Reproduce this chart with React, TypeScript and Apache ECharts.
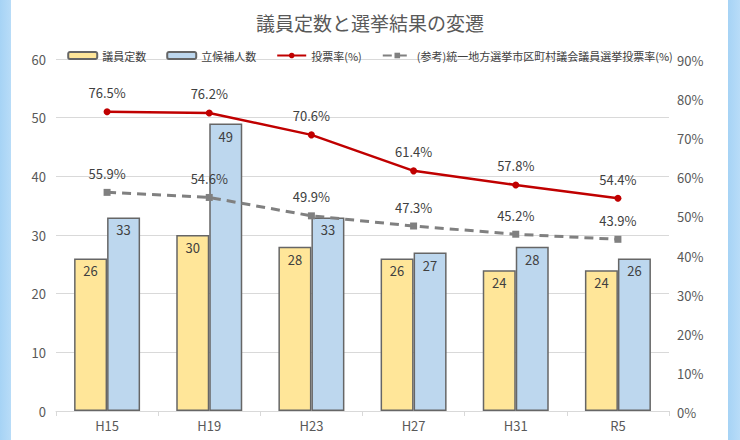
import React, { useEffect, useRef } from "react";
import * as echarts from "echarts";

const categories = ["H15", "H19", "H23", "H27", "H31", "R5"];
const seats = [26, 30, 28, 26, 24, 24];
const candidates = [33, 49, 33, 27, 28, 26];
const turnout = [76.5, 76.2, 70.6, 61.4, 57.8, 54.4];
const refTurnout = [55.9, 54.6, 49.9, 47.3, 45.2, 43.9];

const FONT = "'Noto Sans CJK JP', 'Noto Sans', sans-serif";

export default function App() {
  const ref = useRef<HTMLDivElement>(null);
  useEffect(() => {
    const chart = echarts.init(ref.current!, null, { renderer: "svg" });
    const labelStyle = { color: "#404040", fontSize: 13, fontFamily: FONT };
    chart.setOption({
      animation: false,
      textStyle: { fontFamily: FONT },
      title: {
        text: "議員定数と選挙結果の変遷",
        left: "center",
        top: 8,
        textStyle: { fontSize: 19, fontWeight: "normal", color: "#595959", fontFamily: FONT },
      },
      legend: {
        left: "center",
        top: 45,
        itemWidth: 29,
        itemHeight: 7,
        itemGap: 20,
        textStyle: { fontSize: 11, color: "#404040", fontFamily: FONT },
        data: ["議員定数", "立候補人数", "投票率(%)", "(参考)統一地方選挙市区町村議会議員選挙投票率(%)"],
      },
      grid: { left: 44, right: 59, top: 59, bottom: 29 },
      xAxis: {
        type: "category",
        data: categories,
        axisLine: { lineStyle: { color: "#d9d9d9" } },
        axisTick: { show: true, lineStyle: { color: "#d9d9d9" }, length: 5 },
        axisLabel: { color: "#595959", fontSize: 13, margin: 8, fontFamily: FONT },
      },
      yAxis: [
        {
          type: "value",
          min: 0,
          max: 60,
          interval: 10,
          axisLabel: { color: "#595959", fontSize: 13, margin: 10, fontFamily: FONT },
          splitLine: { lineStyle: { color: "#d9d9d9" } },
          axisLine: { show: false },
          axisTick: { show: false },
        },
        {
          type: "value",
          min: 0,
          max: 90,
          interval: 10,
          axisLabel: {
            color: "#595959",
            fontSize: 13,
            margin: 8,
            formatter: "{value}%",
            fontFamily: FONT,
            verticalAlign: "top",
            padding: [-5, 0, 0, 0],
          },
          splitLine: { show: false },
          axisLine: { show: false },
          axisTick: { show: false },
        },
      ],
      series: [
        {
          name: "議員定数",
          type: "bar",
          data: seats,
          barWidth: 33,
          barGap: "0%",
          itemStyle: { color: "#ffe699", borderColor: "#666666", borderWidth: 1.5 },
          label: { show: true, position: "insideTop", distance: 6, ...labelStyle },
        },
        {
          name: "立候補人数",
          type: "bar",
          data: candidates,
          barWidth: 33,
          barGap: "0%",
          itemStyle: { color: "#bdd7ee", borderColor: "#666666", borderWidth: 1.5 },
          label: { show: true, position: "insideTop", distance: 6, ...labelStyle },
        },
        {
          name: "投票率(%)",
          type: "line",
          yAxisIndex: 1,
          data: turnout,
          symbol: "circle",
          symbolSize: 7,
          lineStyle: { color: "#c00000", width: 2.5 },
          itemStyle: { color: "#c00000" },
          label: { show: true, position: "top", distance: 9, formatter: "{c}%", ...labelStyle },
        },
        {
          name: "(参考)統一地方選挙市区町村議会議員選挙投票率(%)",
          type: "line",
          yAxisIndex: 1,
          data: refTurnout,
          symbol: "rect",
          symbolSize: 7,
          lineStyle: { color: "#808080", width: 3, type: [9, 6] },
          itemStyle: { color: "#808080" },
          label: { show: true, position: "top", distance: 9, formatter: "{c}%", ...labelStyle },
        },
      ],
    });
    return () => chart.dispose();
  }, []);

  const strip = "linear-gradient(to right, #a6d3f5, #b8dcf8)";
  return (
    <div style={{ position: "fixed", left: 0, top: 0, width: 740, height: 440, background: "#fff" }}>
      <div style={{ position: "absolute", left: 0, top: 0, width: 11, height: 440, background: strip }} />
      <div style={{ position: "absolute", right: 0, top: 0, width: 12, height: 440, background: strip }} />
      <div ref={ref} style={{ position: "absolute", left: 12, top: 0, width: 716, height: 440 }} />
    </div>
  );
}
